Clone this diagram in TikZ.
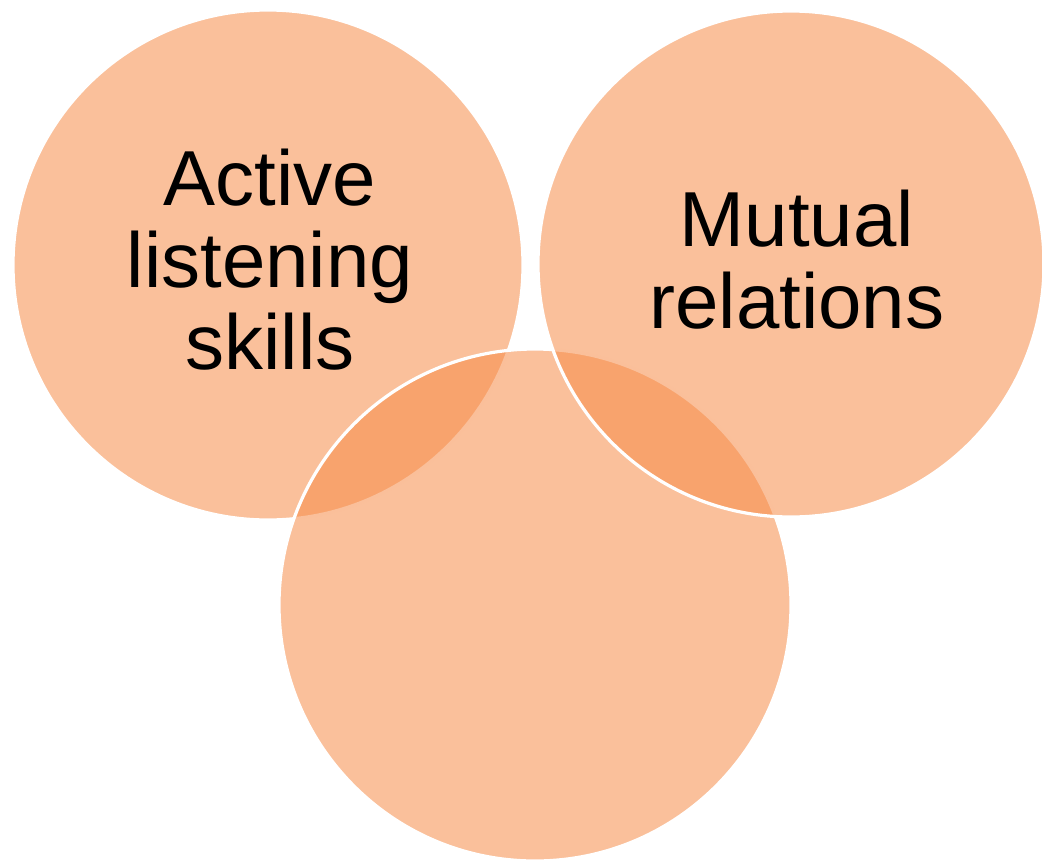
\documentclass[tikz,border=0pt]{standalone}
\usepackage{fontspec}
\setmainfont{Liberation Sans}
\definecolor{petal}{RGB}{246,140,72}
\begin{document}
\begin{tikzpicture}[x=0.75pt,y=-0.75pt,
  petalcircle/.style={circle,fill=petal,fill opacity=0.55,draw=white,draw opacity=1,line width=2.4pt,inner sep=0pt},
  petaltext/.style={align=center,text=black,inner sep=0pt,font=\fontsize{58.5}{61.5}\selectfont}]
\useasboundingbox (0,0) rectangle (1042,864);
\node[petalcircle,minimum size=382.5pt] (left) at (268,265) {};
\node[petalcircle,minimum size=384pt] (bottom) at (535,605) {};
\node[petalcircle,minimum size=379.5pt] (right) at (791,264) {};
\node[petaltext] (lefttext) at (270,260) {Active\\listening\\skills};
\node[petaltext] (righttext) at (797,260) {Mutual\\relations};
\end{tikzpicture}
\end{document}
